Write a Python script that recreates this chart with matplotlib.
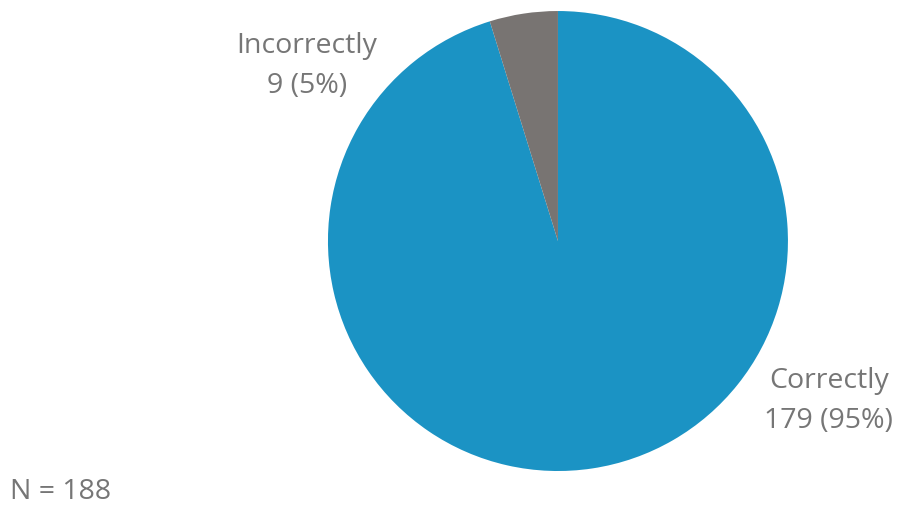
import matplotlib.pyplot as plt

labels = ["Correctly", "Incorrectly"]
counts = [179, 9]
colors = ["#1B93C4", "#787472"]
total = sum(counts)

plt.rcParams['font.family'] = ['Open Sans', 'DejaVu Sans']

fig = plt.figure(figsize=(9, 5.08), dpi=100)
ax = fig.add_axes([0.3644, 0.0728, 0.5111, 0.9055])

ax.pie(counts, colors=colors, startangle=90, counterclock=False, radius=1,
       wedgeprops=dict(linewidth=0))
ax.set_xlim(-1, 1)
ax.set_ylim(-1, 1)
ax.set_aspect('equal')
ax.axis('off')

label_pos = {"Correctly": (1.178, -0.695), "Incorrectly": (-1.091, 0.76)}
for name, c in zip(labels, counts):
    x, y = label_pos[name]
    ax.text(x, y, f"{name}\n{c} ({round(c / total * 100)}%)", ha='center', va='center',
            fontsize=20.5, color='#767676', linespacing=1.55, clip_on=False)

fig.text(10 / 900, 1 - 492 / 508, f"N = {total}", ha='left', va='center',
         fontsize=20.5, color='#767676')

fig.savefig("out.png", dpi=100)
